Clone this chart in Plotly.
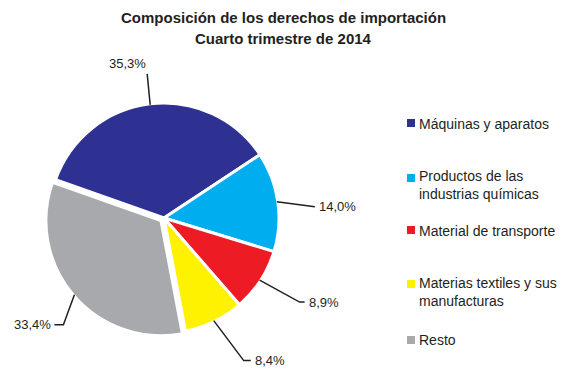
import math
import plotly.graph_objects as go

# Composition of import duties, Q4 2014 (%)
categories = [
    "Máquinas y aparatos",
    "Productos de las<br>industrias químicas",
    "Material de transporte",
    "Materias textiles y sus<br>manufacturas",
    "Resto",
]
shares = [35.3, 14.0, 8.9, 8.4, 33.4]
share_labels = ["35,3%", "14,0%", "8,9%", "8,4%", "33,4%"]
colors = ["#2e3192", "#00aeef", "#ed1c24", "#fff200", "#a7a9ac"]
pulls = [0, 0, 0, 0, 0.035]
title_lines = ["Composición de los derechos de importación", "Cuarto trimestre de 2014"]

W, H = 565, 369
ROTATION = -70.5
CX, CY, R = 164, 218, 115          # pie centre / radius in pixels
INK = "#231f20"
FONT = "Liberation Sans, Arial, sans-serif"

half = R * (1 + max(pulls))
dom_x = [(CX - half) / W, (CX + half) / W]
dom_y = [(H - CY - half) / H, (H - CY + half) / H]

fig = go.Figure(go.Pie(
    labels=categories, values=shares, sort=False, direction="clockwise",
    rotation=ROTATION, pull=pulls, textinfo="none", hoverinfo="label+percent",
    marker=dict(colors=colors, line=dict(color="white", width=3)),
    domain=dict(x=dom_x, y=dom_y), showlegend=False,
))


def px(x):
    return x / W


def py(y):
    return 1 - y / H


# leader line styling per slice: elbow offset from the rim, horizontal tail, text side
leaders = [
    dict(elbow=(-3, -31), tail=0, side="top"),
    dict(elbow=(38, 5), tail=0, side="right"),
    dict(elbow=(40, 22), tail=5, side="right"),
    dict(elbow=(30, 40), tail=7, side="right"),
    dict(elbow=(-11, 30), tail=-9, side="left"),
]

total = sum(shares)
start = ROTATION
shapes, annotations = [], []
for val, lab, pull, ld in zip(shares, share_labels, pulls, leaders):
    span = 360 * val / total
    mid = math.radians(start + span / 2)
    start += span
    ox = CX + pull * R * math.sin(mid)
    oy = CY - pull * R * math.cos(mid)
    ax = ox + (R - 1) * math.sin(mid)
    ay = oy - (R - 1) * math.cos(mid)
    ex, ey = ax + ld["elbow"][0], ay + ld["elbow"][1]
    tx = ex + ld["tail"]
    path = f"M {px(ax)} {py(ay)} L {px(ex)} {py(ey)} L {px(tx)} {py(ey)}"
    shapes.append(dict(type="path", path=path, xref="paper", yref="paper",
                       line=dict(color=INK, width=1.5)))
    if ld["side"] == "top":
        annotations.append(dict(x=px(ex + 1), y=py(ey - 1), text=lab, xanchor="right",
                                yanchor="bottom", showarrow=False))
    elif ld["side"] == "right":
        annotations.append(dict(x=px(tx + 2), y=py(ey), text=lab, xanchor="left",
                                yanchor="middle", showarrow=False))
    else:
        annotations.append(dict(x=px(tx - 1), y=py(ey), text=lab, xanchor="right",
                                yanchor="middle", showarrow=False))

# legend drawn as swatches + text
legend_rows = [124, 185, 231, 292, 340]
legend_marker_rows = [123, 178, 230, 284, 340]
for name, col, ty, my in zip(categories, colors, legend_rows, legend_marker_rows):
    shapes.append(dict(type="rect", xref="paper", yref="paper",
                       x0=px(407), x1=px(415), y0=py(my + 4), y1=py(my - 4),
                       fillcolor=col, line=dict(width=0)))
    annotations.append(dict(x=px(417), y=py(ty), text=name, xanchor="left", yanchor="middle",
                            align="left", showarrow=False,
                            font=dict(size=14, color=INK, family=FONT)))

# two-line bold heading
for line, ty in zip(title_lines, [17, 38]):
    annotations.append(dict(x=px(283), y=py(ty), text=f"<b>{line}</b>", xanchor="center",
                            yanchor="middle", showarrow=False,
                            font=dict(size=15, color=INK, family=FONT)))

fig.update_layout(
    width=W, height=H, margin=dict(l=0, r=0, t=0, b=0),
    paper_bgcolor="white", plot_bgcolor="white",
    font=dict(family=FONT, size=13, color=INK),
    shapes=shapes, annotations=annotations,
)

fig.write_html("out.html")
